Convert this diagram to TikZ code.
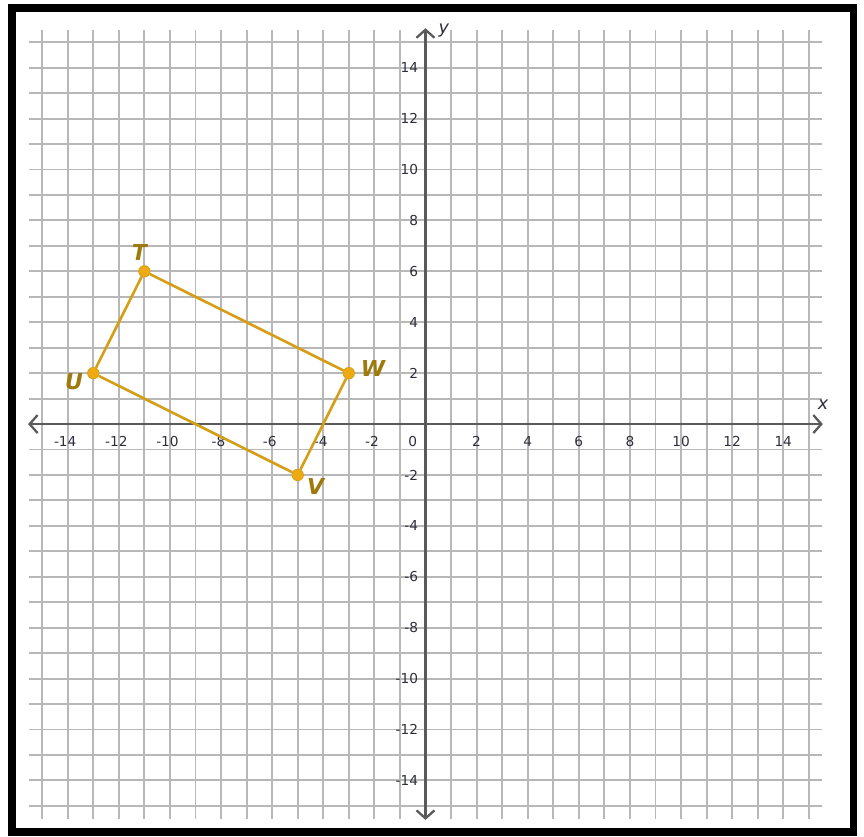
\documentclass[tikz,border=0pt]{standalone}
\usepackage{fontspec}
\setmainfont{DejaVu Sans}
\usetikzlibrary{arrows.meta,positioning}
\definecolor{gridgray}{HTML}{B8B8B8}
\definecolor{axisgray}{HTML}{5A5A5A}
\definecolor{ticktext}{HTML}{2E2E3A}
\definecolor{goldline}{HTML}{D49E16}
\definecolor{golddot}{HTML}{EDAA12}
\definecolor{goldtext}{HTML}{9E7A0C}

\begin{document}
\begin{tikzpicture}[x=0.511cm, y=0.509cm, every node/.style={font=\fontsize{7.8}{9}\selectfont, text=ticktext}]
      \useasboundingbox (-16.65,-16.19) rectangle (17.16,16.66);
      \tikzset{
        gridline/.style={draw=gridgray, line width=1.1pt},
        axisline/.style={draw=axisgray, line width=1.3pt, {Straight Barb[length=1.6mm,width=3.6mm]}-{Straight Barb[length=1.6mm,width=3.6mm]}},
        vertex/.style={circle, fill=golddot, draw=goldline, line width=0.4pt, inner sep=0pt, minimum size=0.23cm},
        edge/.style={draw=goldline, line width=1.5pt},
        vlabel/.style={font=\fontsize{12.5}{14}\selectfont\bfseries\itshape, text=goldtext}
      }
      % frame
      \draw[line width=4.5pt] (-16.18,-16.03) rectangle (16.75,16.35);
      % grid
      \foreach \k in {-15,...,15} {
        \draw[gridline] (\k,-15.5) -- (\k,15.5);
        \draw[gridline] (-15.5,\k) -- (15.5,\k);
      }
      % axes
      \draw[axisline] (-15.55,0) -- (15.55,0);
      \draw[axisline] (0,-15.55) -- (0,15.55);
      \node[font=\fontsize{10}{12}\selectfont\itshape] (xlab) at (15.56,0.75) {x};
      \node[font=\fontsize{10}{12}\selectfont\itshape] (ylab) at (0.72,15.48) {y};
      % tick labels
      \foreach \k in {2,4,...,14} {
        \node (xp\k) at (\k,-0.7) {\k};
        \node (xn\k) at (-\k,-0.7) {\llap{-}\k};
        \node[anchor=east, inner sep=0pt] (yp\k) at (-0.28,\k) {\k};
        \node[anchor=east, inner sep=0pt] (yn\k) at (-0.28,-\k) {-\k};
      }
      \node (zero) at (-0.5,-0.7) {0};
      % parallelogram TWVU
      \node[vertex] (T) at (-11,6) {};
      \node[vertex] (U) at (-13,2) {};
      \node[vertex] (V) at (-5,-2) {};
      \node[vertex] (W) at (-3,2) {};
      \draw[edge] (T) -- (W);
      \draw[edge] (W) -- (V);
      \draw[edge] (V) -- (U);
      \draw[edge] (U) -- (T);
      \node[vlabel] (labT) at (-11.2,6.75) {T};
      \node[vlabel] (labU) at (-13.75,1.65) {U};
      \node[vlabel] (labV) at (-4.3,-2.47) {V};
      \node[vlabel] (labW) at (-2.05,2.2) {W};
    \end{tikzpicture}
\end{document}
